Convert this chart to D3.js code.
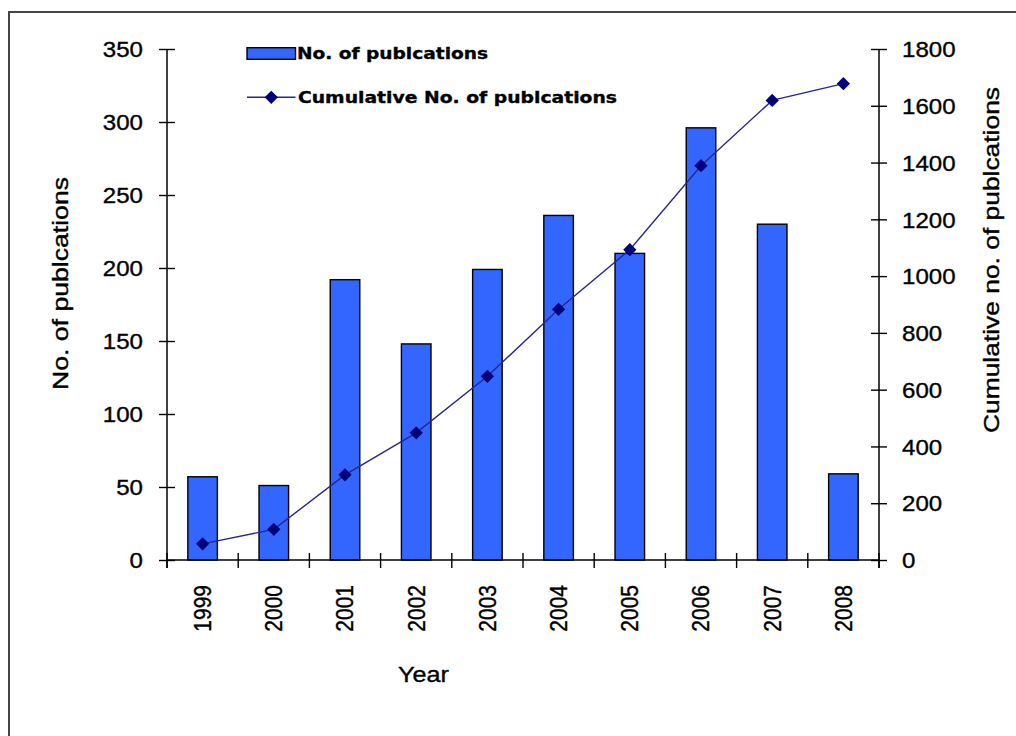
<!DOCTYPE html>
<html>
<head>
<meta charset="utf-8">
<script src="https://cdn.jsdelivr.net/npm/d3@7"></script>
<style>
  html, body { margin: 0; padding: 0; background: #fff; }
  svg { display: block; }
  text { font-family: "Liberation Sans", Arial, sans-serif; fill: #000; stroke: #000; stroke-width: 0.35px; }
</style>
</head>
<body>
<script>
// Publications per year and running total
const years = ["1999", "2000", "2001", "2002", "2003", "2004", "2005", "2006", "2007", "2008"];
const publications = [57, 51, 192, 148, 199, 236, 210, 296, 230, 59];
const cumulative = [57, 108, 300, 448, 647, 883, 1093, 1389, 1619, 1678];
const leftTicks = [0, 50, 100, 150, 200, 250, 300, 350];
const rightTicks = [0, 200, 400, 600, 800, 1000, 1200, 1400, 1600, 1800];
const seriesNames = ["No. of publcations", "Cumulative No. of publcations"];
const axisTitles = { x: "Year", left: "No. of publcations", right: "Cumulative no. of publcations" };

const W = 1016, H = 736;
const SX = 1.12; // horizontal widening of the lettering
const plot = { left: 167, right: 879, top: 49, bottom: 560 };

const svg = d3.select("body").append("svg").attr("width", W).attr("height", H);

// outer frame
svg.append("rect")
  .attr("x", 9).attr("y", 12).attr("width", W + 20).attr("height", H + 20)
  .attr("fill", "#fff").attr("stroke", "#444").attr("stroke-width", 2);

const x = d3.scaleBand().domain(years).range([plot.left, plot.right]).paddingInner(0).paddingOuter(0);
const yL = d3.scaleLinear().domain([0, 350]).range([plot.bottom, plot.top]);
const yR = d3.scaleLinear().domain([0, 1800]).range([plot.bottom, plot.top]);

const barW = x.bandwidth() * 0.415;
const TL = 8; // half tick length (ticks cross the axis line)

// bars
svg.append("g").selectAll("rect").data(years).join("rect")
  .attr("x", (d, i) => x(d) + x.bandwidth() / 2 - barW / 2)
  .attr("y", (d, i) => yL(publications[i]))
  .attr("width", barW)
  .attr("height", (d, i) => yL(0) - yL(publications[i]))
  .attr("fill", "#3366ff").attr("stroke", "#000").attr("stroke-width", 1.4);

// left axis
const gL = svg.append("g").attr("transform", `translate(${plot.left},0)`)
  .call(d3.axisLeft(yL).tickValues(leftTicks).tickFormat(d3.format("d")).tickSize(TL).tickPadding(0));
gL.select(".domain").remove();
gL.selectAll(".tick line").attr("x1", -TL).attr("x2", TL).attr("stroke", "#000").attr("stroke-width", 1.4);
gL.selectAll(".tick text")
  .attr("x", null).attr("dy", "0.36em")
  .attr("transform", `translate(-24,0) scale(${SX},1)`)
  .attr("text-anchor", "end")
  .style("font-size", "21.5px").style("font-family", "'Liberation Sans', Arial, sans-serif");
gL.append("line").attr("x1", 0).attr("x2", 0).attr("y1", yL.range()[1]).attr("y2", yL(0) + TL)
  .attr("stroke", "#000").attr("stroke-width", 1.5);

// right axis
const gR = svg.append("g").attr("transform", `translate(${plot.right},0)`)
  .call(d3.axisRight(yR).tickValues(rightTicks).tickFormat(d3.format("d")).tickSize(TL).tickPadding(0));
gR.select(".domain").remove();
gR.selectAll(".tick line").attr("x1", -TL).attr("x2", TL).attr("stroke", "#000").attr("stroke-width", 1.4);
gR.selectAll(".tick text")
  .attr("x", null).attr("dy", "0.36em")
  .attr("transform", `translate(23,0) scale(${SX},1)`)
  .attr("text-anchor", "start")
  .style("font-size", "21.5px").style("font-family", "'Liberation Sans', Arial, sans-serif");
gR.append("line").attr("x1", 0).attr("x2", 0).attr("y1", yR.range()[1]).attr("y2", yR(0) + TL)
  .attr("stroke", "#000").attr("stroke-width", 1.5);

// category axis: ticks at band edges, labels rotated
const gX = svg.append("g").attr("transform", `translate(0,${plot.bottom})`);
gX.append("line").attr("x1", plot.left).attr("x2", plot.right).attr("y1", 0).attr("y2", 0)
  .attr("stroke", "#000").attr("stroke-width", 1.5);
const edges = years.map(d => x(d)).concat([x(years[years.length - 1]) + x.bandwidth()]);
gX.selectAll("line.tk").data(edges).join("line").attr("class", "tk")
  .attr("x1", d => d).attr("x2", d => d).attr("y1", -7).attr("y2", TL)
  .attr("stroke", "#000").attr("stroke-width", 1.4);
gX.selectAll("text").data(years).join("text")
  .attr("transform", d => `translate(${x(d) + x.bandwidth() / 2},25) rotate(-90) scale(1,${SX})`)
  .attr("text-anchor", "end").attr("dy", "0.36em")
  .style("font-size", "21px")
  .text(d => d);

// cumulative line with diamond markers
const line = d3.line().x((d, i) => x(years[i]) + x.bandwidth() / 2).y(d => yR(d));
svg.append("path").datum(cumulative).attr("d", line)
  .attr("fill", "none").attr("stroke", "#27278f").attr("stroke-width", 1.4);
const diamond = d3.symbol(d3.symbolSquare, 88);
svg.append("g").selectAll("path").data(cumulative).join("path")
  .attr("transform", (d, i) => `translate(${x(years[i]) + x.bandwidth() / 2},${yR(d)}) rotate(45)`)
  .attr("d", diamond).attr("fill", "#00007a");

// axis titles
svg.append("text")
  .attr("transform", `translate(423.5,682) scale(${SX},1)`)
  .attr("text-anchor", "middle")
  .style("font-size", "22.5px")
  .text(axisTitles.x);

svg.append("text")
  .attr("transform", `translate(68,283.5) rotate(-90) scale(1,${SX})`)
  .attr("text-anchor", "middle")
  .attr("textLength", 213).attr("lengthAdjust", "spacingAndGlyphs")
  .style("font-size", "20.5px")
  .text(axisTitles.left);

svg.append("text")
  .attr("transform", `translate(999,260) rotate(-90) scale(1,${SX})`)
  .attr("text-anchor", "middle")
  .attr("textLength", 346).attr("lengthAdjust", "spacingAndGlyphs")
  .style("font-size", "20.5px")
  .text(axisTitles.right);

// legend
const lg = svg.append("g");
lg.append("rect").attr("x", 247).attr("y", 47.7).attr("width", 48.5).attr("height", 11.6)
  .attr("fill", "#3366ff").attr("stroke", "#000").attr("stroke-width", 1.4);
lg.append("text").attr("x", 297).attr("y", 59.3)
  .attr("textLength", 191).attr("lengthAdjust", "spacingAndGlyphs")
  .style("font-family", "'DejaVu Sans', Verdana, sans-serif").style("font-weight", "bold")
  .style("font-size", "16px")
  .text(seriesNames[0]);
lg.append("line").attr("x1", 247).attr("x2", 295.5).attr("y1", 97.3).attr("y2", 97.3)
  .attr("stroke", "#27278f").attr("stroke-width", 1.4);
lg.append("path").attr("transform", "translate(271.3,97.3) rotate(45)").attr("d", diamond).attr("fill", "#00007a");
lg.append("text").attr("x", 298).attr("y", 103)
  .attr("textLength", 319).attr("lengthAdjust", "spacingAndGlyphs")
  .style("font-family", "'DejaVu Sans', Verdana, sans-serif").style("font-weight", "bold")
  .style("font-size", "16px")
  .text(seriesNames[1]);
</script>
</body>
</html>
